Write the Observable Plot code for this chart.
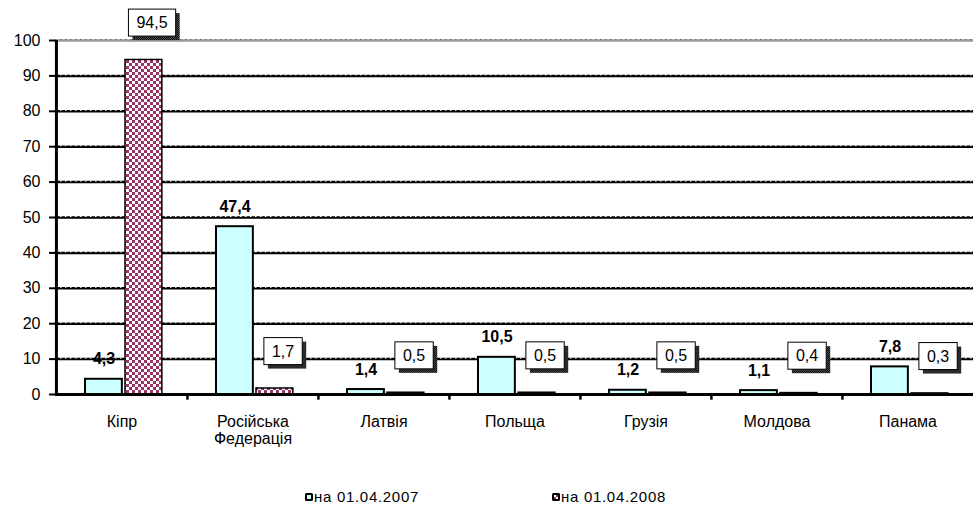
<!DOCTYPE html>
<html><head><meta charset="utf-8">
<script src="https://cdn.jsdelivr.net/npm/d3@7"></script>
<script src="https://cdn.jsdelivr.net/npm/@observablehq/plot@0.6"></script>
<style>
body{margin:0;background:#fff;font-family:"Liberation Sans",Arial,sans-serif;}
#wrap{position:relative;width:973px;height:515px;}
#chart svg{display:block;}
.leg{position:absolute;top:488px;font-size:15px;letter-spacing:0.7px;display:flex;align-items:center;color:#000;}
.sw{width:4px;height:4px;border:2.5px solid #000;border-radius:1.5px;margin-right:1px;}
</style></head><body><div id="wrap"><div id="chart"></div></div>
<script>
const categories = ["Кіпр", "Російська\nФедерація", "Латвія", "Польща", "Грузія", "Молдова", "Панама"];
const seriesNames = ["на 01.04.2007", "на 01.04.2008"];
const values2007 = [4.3, 47.4, 1.4, 10.5, 1.2, 1.1, 7.8];
const values2008 = [94.5, 1.7, 0.5, 0.5, 0.5, 0.4, 0.3];
const yTicks = [0, 10, 20, 30, 40, 50, 60, 70, 80, 90, 100];

const data1 = categories.map((c, i) => ({c, v: values2007[i]}));
const data2 = categories.map((c, i) => ({c, v: values2008[i]}));
const fmt = v => v.toFixed(1).replace(".", ",");
const W = 973, ML = 55;
const bw = (W - ML) / categories.length;
const barW = 37;
const inner = yTicks.filter(t => t > 0 && t < 100);

const chart = Plot.plot({
  width: W, height: 470, marginLeft: ML, marginRight: 0, marginTop: 40, marginBottom: 76,
  style: {fontFamily: "'Liberation Sans', Arial, sans-serif", fontSize: "16px", color: "#000", background: "transparent", overflow: "visible"},
  x: {type: "band", domain: categories, padding: 0, axis: null, label: null},
  y: {domain: [0, 100], axis: null, label: null},
  marks: [
    Plot.ruleY(inner, {y: d => d, stroke: "#000", strokeWidth: 2.5}),
    Plot.ruleY(inner, {y: d => d, stroke: "#fff", strokeWidth: 1, strokeDasharray: "1.5,3.5", dy: -1}),
    Plot.ruleY([100], {y: d => d, stroke: "#9a9a9a", strokeWidth: 2.5}),
    Plot.ruleY([100], {y: d => d, stroke: "#666", strokeWidth: 1, strokeDasharray: "1.5,3.5", dy: -1}),
    Plot.barY(data1, {x: "c", y: "v", fill: "#ccffff", stroke: "#000", strokeWidth: 2, insetLeft: 29, insetRight: bw - 29 - barW}),
    Plot.barY(data2, {x: "c", y: "v", fill: "url(#chk)", stroke: "#000", strokeWidth: 1.5, insetLeft: 69, insetRight: bw - 69 - barW}),
    Plot.ruleY([0], {y: d => d, stroke: "#000", strokeWidth: 3}),
    Plot.ruleX([categories[0]], {x: d => d, y1: 0, y2: 100, dx: -bw / 2, stroke: "#000", strokeWidth: 3}),
    Plot.ruleX(categories.slice(1), {x: d => d, y1: 0, y2: -1.6, dx: -bw / 2, stroke: "#000", strokeWidth: 2.5}),
    Plot.axisY(yTicks, {tickSize: 6, tickPadding: 9, fontSize: 16, strokeWidth: 2, label: null, style: {letterSpacing: "0.8px"}}),
    Plot.axisX({tickSize: 0, tickPadding: 21, fontSize: 16, lineHeight: 1.05, label: null}),
    Plot.text(data1, {x: "c", y: "v", text: d => fmt(d.v), dx: -18, dy: -20, fontWeight: "bold", fontSize: 16, style: {letterSpacing: "1px"}}),
    Plot.text(data2, {x: "c", y: "v", text: d => fmt(d.v), dx: 30, dy: -37, fontSize: 16, className: "lab2", style: {letterSpacing: "0.8px"}})
  ]
});

// patterns
const svg = d3.select(chart);
const defs = svg.insert("defs", ":first-child");
const p = defs.append("pattern").attr("id", "chk").attr("patternUnits", "userSpaceOnUse").attr("width", 6).attr("height", 6);
p.append("rect").attr("width", 6).attr("height", 6).attr("fill", "#fff");
p.append("rect").attr("width", 3).attr("height", 3).attr("fill", "#993366");
p.append("rect").attr("x", 3).attr("y", 3).attr("width", 3).attr("height", 3).attr("fill", "#993366");
const p2 = defs.append("pattern").attr("id", "dith").attr("patternUnits", "userSpaceOnUse").attr("width", 2).attr("height", 2);
p2.append("rect").attr("width", 2).attr("height", 2).attr("fill", "#555");
p2.append("rect").attr("width", 1).attr("height", 1).attr("fill", "#000");
p2.append("rect").attr("x", 1).attr("y", 1).attr("width", 1).attr("height", 1).attr("fill", "#000");

document.getElementById("chart").appendChild(chart);

// label boxes for the 2008 series
chart.querySelectorAll("g.lab2 text").forEach(t => {
  const b = t.getBBox();
  const padX = 8, padY = 5;
  const tr = t.getAttribute("transform");
  const mk = (dx, dy, fill, stroke) => {
    const r = document.createElementNS("http://www.w3.org/2000/svg", "rect");
    r.setAttribute("x", b.x - padX + dx);
    r.setAttribute("y", b.y - padY + dy);
    r.setAttribute("width", b.width + 2 * padX);
    r.setAttribute("height", b.height + 2 * padY);
    r.setAttribute("fill", fill);
    if (stroke) { r.setAttribute("stroke", stroke); r.setAttribute("stroke-width", 1); }
    if (tr) r.setAttribute("transform", tr);
    t.parentNode.insertBefore(r, t);
  };
  mk(4, 4, "url(#dith)");
  mk(0, 0, "#fff", "#000");
});

// legend
const wrap = document.getElementById("wrap");
const legX = [305, 552];
seriesNames.forEach((s, i) => {
  const d = document.createElement("div");
  d.className = "leg";
  d.style.left = legX[i] + "px";
  const sw = document.createElement("div");
  sw.className = "sw";
  if (i === 0) sw.style.background = "#ccffff";
  else sw.style.background = "repeating-conic-gradient(#993366 0% 25%, #fff 0% 50%) 0 0 / 4px 4px";
  d.appendChild(sw);
  const tx = document.createElement("span");
  tx.textContent = s;
  d.appendChild(tx);
  wrap.appendChild(d);
});
</script></body></html>
